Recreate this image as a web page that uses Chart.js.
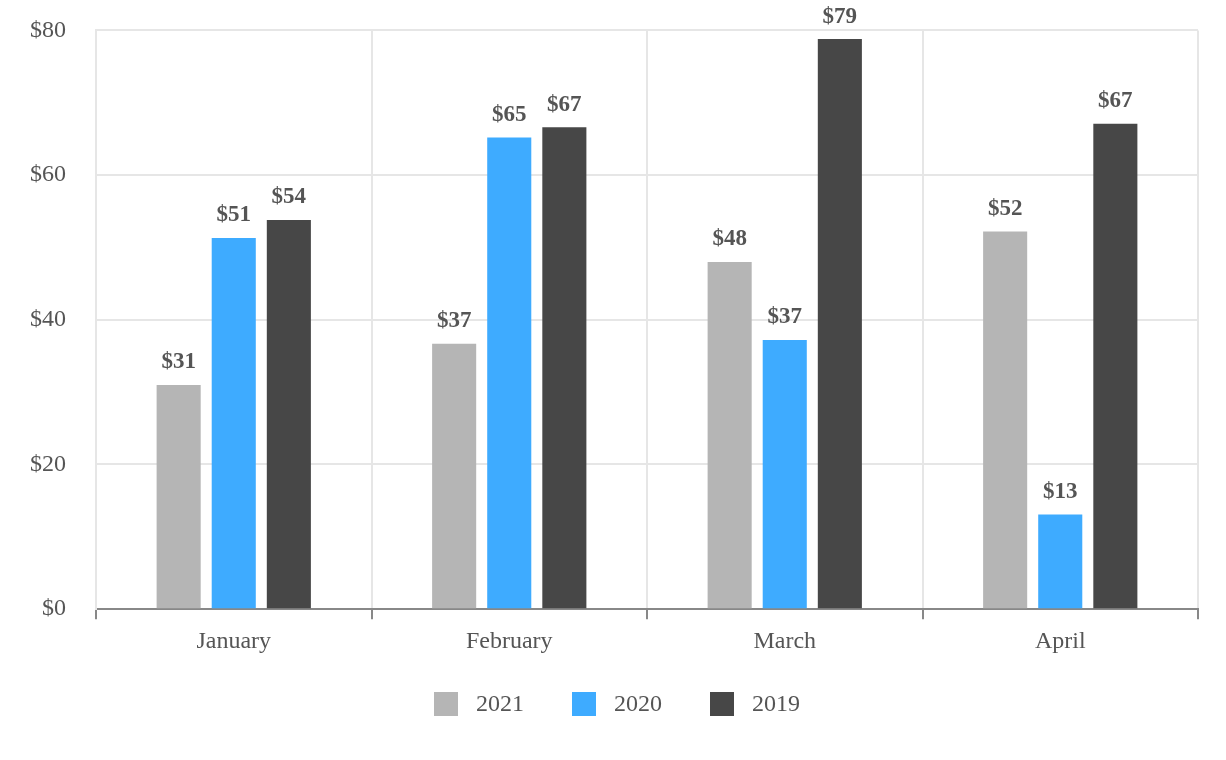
<!DOCTYPE html>
<html><head><meta charset="utf-8">
<script src="https://cdn.jsdelivr.net/npm/chart.js@4"></script>
<style>html,body{margin:0;padding:0;background:#fff}#wrap{width:1226px;height:760px}</style>
</head><body><div id="wrap"><canvas id="c"></canvas></div>
<script>
const categories = ["January","February","March","April"];
const seriesNames = ["2021","2020","2019"];
const values2021 = [31, 36.7, 48, 52.2];
const values2020 = [51.3, 65.2, 37.2, 13.1];
const values2019 = [53.8, 66.6, 78.8, 67.1];
const yTicks = [0,20,40,60,80];
const colors = ["#b5b5b5","#3eabff","#474747"];

const labelPlugin = {
  id:'valLabels',
  afterDatasetsDraw(chart){
    const ctx = chart.ctx;
    ctx.save();
    ctx.font = 'bold 23px "Liberation Serif"';
    ctx.fillStyle = '#555';
    ctx.textAlign = 'center';
    ctx.textBaseline = 'bottom';
    chart.data.datasets.forEach((ds,i)=>{
      chart.getDatasetMeta(i).data.forEach((el,j)=>{
        ctx.fillText('$'+Math.round(ds.data[j]), el.x, el.y-11);
      });
    });
    ctx.restore();
  }
};

const legendPlugin = {
  id:'customLegend',
  afterDraw(chart){
    const ctx = chart.ctx;
    ctx.save();
    ctx.font = '24px "Liberation Serif"';
    const box = 24, gap = 18, spacing = 48;
    const items = chart.data.datasets.map(d=>({label:d.label, color:d.backgroundColor, w: ctx.measureText(d.label).width}));
    let total = items.reduce((s,it)=>s+box+gap+it.w,0) + spacing*(items.length-1);
    let x = chart.width/2 - total/2 + 4;
    const cy = 704;
    ctx.textBaseline = 'middle';
    ctx.textAlign = 'left';
    items.forEach(it=>{
      ctx.fillStyle = it.color;
      ctx.fillRect(x, cy-box/2, box, box);
      ctx.fillStyle = '#555';
      ctx.fillText(it.label, x+box+gap, cy+1);
      x += box+gap+it.w+spacing;
    });
    ctx.restore();
  }
};

Chart.defaults.font.family = '"Liberation Serif", serif';
new Chart(document.getElementById('c'), {
  type:'bar',
  data:{labels:categories, datasets:[
    {label:seriesNames[0], data:values2021, backgroundColor:colors[0]},
    {label:seriesNames[1], data:values2020, backgroundColor:colors[1]},
    {label:seriesNames[2], data:values2019, backgroundColor:colors[2]}
  ]},
  options:{
    responsive:true, maintainAspectRatio:false, animation:false,
    layout:{padding:{left:14,right:28,top:0,bottom:96}},
    datasets:{bar:{categoryPercentage:0.6, barPercentage:0.8}},
    plugins:{
      legend:{display:false},
      tooltip:{enabled:false}
    },
    scales:{
      x:{grid:{color:'#e6e6e6', lineWidth:2, offset:true, tickLength:10, tickColor:'#888'},
         border:{color:'#888', width:2},
         ticks:{color:'#555', font:{size:24}, padding:8}},
      y:{min:0,max:80, afterBuildTicks(a){a.ticks=yTicks.map(v=>({value:v}));},
         grid:{color:'#e6e6e6', lineWidth:2, drawTicks:true, tickLength:14, tickColor:'rgba(0,0,0,0)'},
         border:{color:'#e6e6e6', width:2},
         ticks:{color:'#555', font:{size:24}, padding:16, callback:v=>'$'+v}}
    }
  },
  plugins:[labelPlugin, legendPlugin]
});
</script></body></html>
